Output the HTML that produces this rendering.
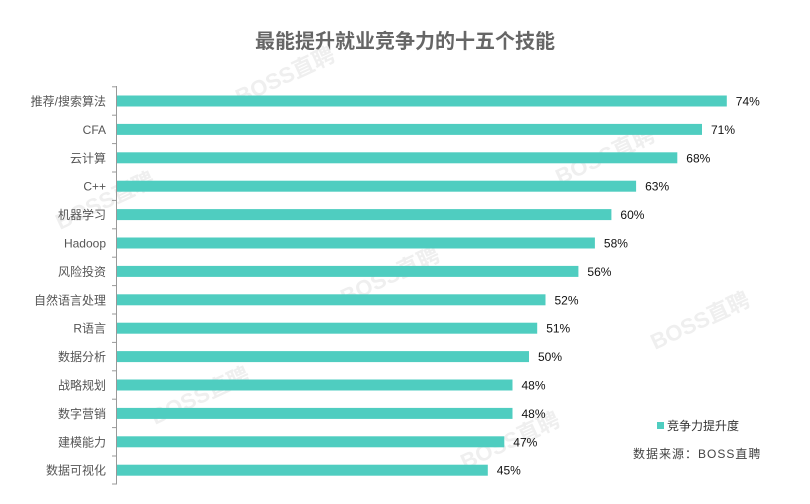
<!DOCTYPE html>
<html><head><meta charset="utf-8"><style>
html,body{margin:0;padding:0;background:#fff;width:810px;height:504px;overflow:hidden}
svg{display:block}
text{font-family:"Liberation Sans","Noto Sans CJK SC",sans-serif}
</style></head><body>
<svg width="810" height="504" xmlns="http://www.w3.org/2000/svg">
<text x="405" y="48" text-anchor="middle" font-size="20" font-weight="bold" fill="#666">最能提升就业竞争力的十五个技能</text>
<g font-size="22" font-weight="bold" fill="#efefef">
<text transform="translate(240,105) rotate(-25)">BOSS直聘</text>
<text transform="translate(560,185) rotate(-25)">BOSS直聘</text>
<text transform="translate(60,230) rotate(-25)">BOSS直聘</text>
<text transform="translate(345,305) rotate(-25)">BOSS直聘</text>
<text transform="translate(655,350) rotate(-25)">BOSS直聘</text>
<text transform="translate(155,425) rotate(-25)">BOSS直聘</text>
<text transform="translate(465,470) rotate(-25)">BOSS直聘</text>
</g>
<line x1="116.5" y1="86" x2="116.5" y2="484" stroke="#999" stroke-width="1"/>
<g stroke="#999">
<line x1="112" x2="117" y1="86.8" y2="86.8"/><line x1="112" x2="117" y1="115.2" y2="115.2"/><line x1="112" x2="117" y1="143.6" y2="143.6"/><line x1="112" x2="117" y1="172" y2="172"/><line x1="112" x2="117" y1="200.4" y2="200.4"/><line x1="112" x2="117" y1="228.8" y2="228.8"/><line x1="112" x2="117" y1="257.2" y2="257.2"/><line x1="112" x2="117" y1="285.6" y2="285.6"/><line x1="112" x2="117" y1="314" y2="314"/><line x1="112" x2="117" y1="342.4" y2="342.4"/><line x1="112" x2="117" y1="370.8" y2="370.8"/><line x1="112" x2="117" y1="399.2" y2="399.2"/><line x1="112" x2="117" y1="427.6" y2="427.6"/><line x1="112" x2="117" y1="456" y2="456"/><line x1="112" x2="117" y1="484" y2="484"/>
</g>
<g fill="#4fcdc0">
<rect x="117" y="95.5" width="609.8" height="11"/>
<rect x="117" y="123.9" width="585" height="11"/>
<rect x="117" y="152.3" width="560.3" height="11"/>
<rect x="117" y="180.7" width="519.1" height="11"/>
<rect x="117" y="209.1" width="494.4" height="11"/>
<rect x="117" y="237.5" width="477.9" height="11"/>
<rect x="117" y="265.9" width="461.4" height="11"/>
<rect x="117" y="294.3" width="428.5" height="11"/>
<rect x="117" y="322.7" width="420.2" height="11"/>
<rect x="117" y="351.1" width="412" height="11"/>
<rect x="117" y="379.5" width="395.5" height="11"/>
<rect x="117" y="407.9" width="395.5" height="11"/>
<rect x="117" y="436.3" width="387.3" height="11"/>
<rect x="117" y="464.7" width="370.8" height="11"/>
</g>
<g font-size="12" fill="#555" text-anchor="end">
<text x="106" y="105.5">推荐/搜索算法</text>
<text x="106" y="133.9">CFA</text>
<text x="106" y="162.3">云计算</text>
<text x="106" y="190.7">C++</text>
<text x="106" y="219.1">机器学习</text>
<text x="106" y="247.5">Hadoop</text>
<text x="106" y="275.9">风险投资</text>
<text x="106" y="304.3">自然语言处理</text>
<text x="106" y="332.7">R语言</text>
<text x="106" y="361.1">数据分析</text>
<text x="106" y="389.5">战略规划</text>
<text x="106" y="417.9">数字营销</text>
<text x="106" y="446.3">建模能力</text>
<text x="106" y="474.7">数据可视化</text>
</g>
<g font-size="12" fill="#111">
<text x="735.8" y="105.5">74%</text>
<text x="711" y="133.9">71%</text>
<text x="686.3" y="162.3">68%</text>
<text x="645.1" y="190.7">63%</text>
<text x="620.4" y="219.1">60%</text>
<text x="603.9" y="247.5">58%</text>
<text x="587.4" y="275.9">56%</text>
<text x="554.5" y="304.3">52%</text>
<text x="546.2" y="332.7">51%</text>
<text x="538" y="361.1">50%</text>
<text x="521.5" y="389.5">48%</text>
<text x="521.5" y="417.9">48%</text>
<text x="513.3" y="446.3">47%</text>
<text x="496.8" y="474.7">45%</text>
</g>
<rect x="657" y="422" width="7" height="7" fill="#4fcdc0"/>
<text x="667" y="430" font-size="12" fill="#333">竞争力提升度</text>
<text x="633" y="458" font-size="12" fill="#444" letter-spacing="1">数据来源：BOSS直聘</text>
</svg>
</body></html>
